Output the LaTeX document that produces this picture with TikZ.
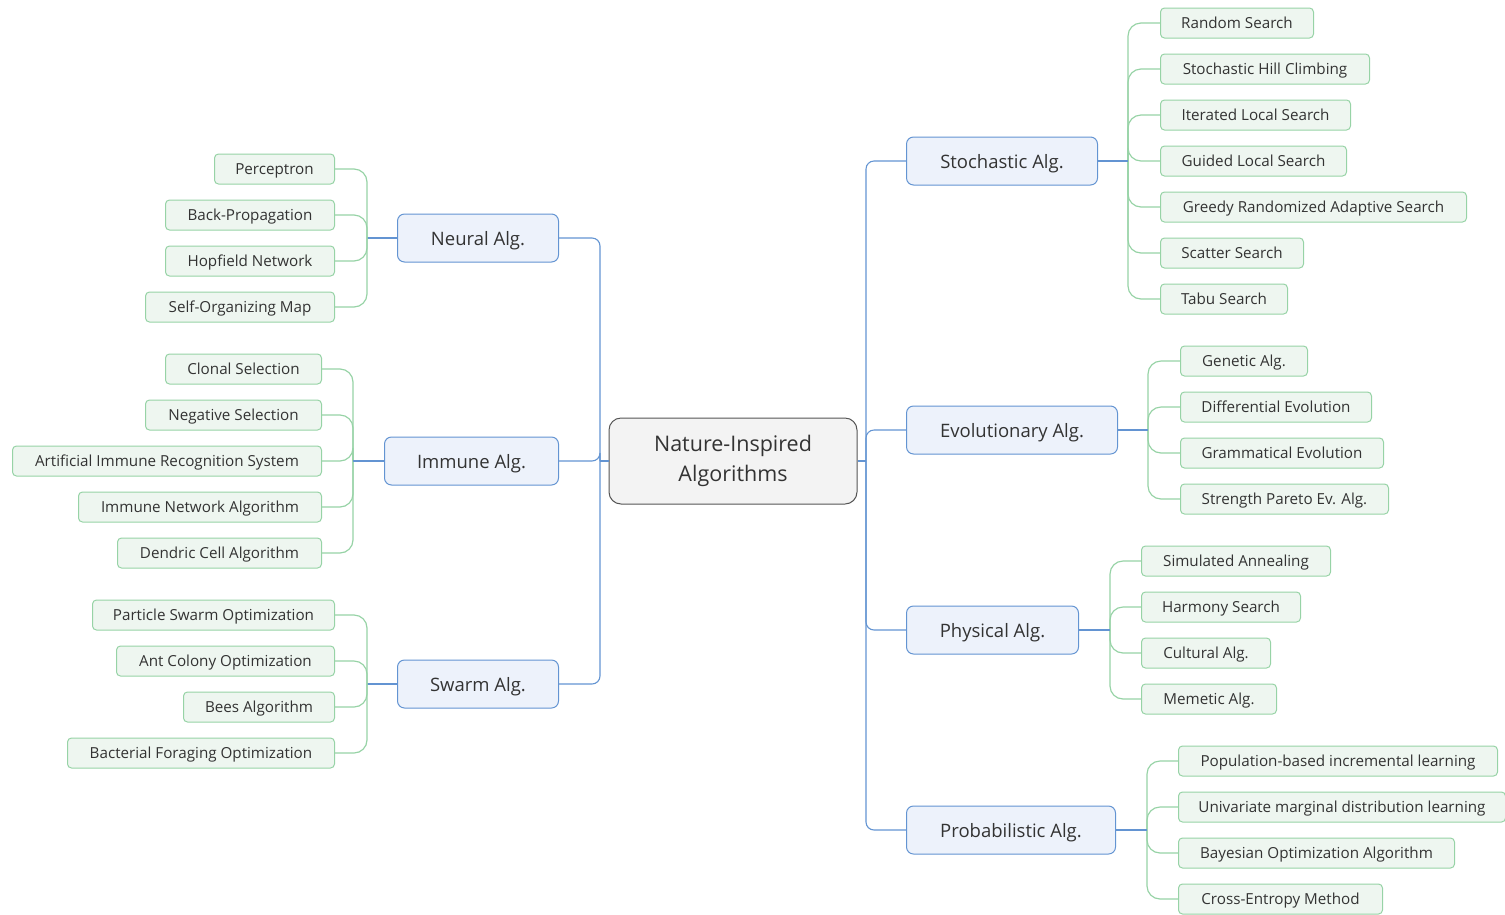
\documentclass[tikz,border=0pt]{standalone}
\usepackage{fontspec}
\setmainfont{Open Sans}
\usetikzlibrary{positioning,calc}
\definecolor{ink}{HTML}{333333}
\definecolor{rootfill}{HTML}{F3F3F3}
\definecolor{rootline}{HTML}{555555}
\definecolor{branchfill}{HTML}{EDF2FB}
\definecolor{branchline}{HTML}{6394D2}
\definecolor{leaffill}{HTML}{EEF6F0}
\definecolor{leafline}{HTML}{97D3A6}
\tikzset{
  base/.style={inner ysep=0pt, text=ink, line width=1pt},
  root/.style={base, rounded corners=12pt, fill=rootfill, draw=rootline, minimum width=248pt, minimum height=86pt, align=center, font=\fontsize{21.5}{30}\selectfont},
  branch/.style={base, rounded corners=7pt, fill=branchfill, draw=branchline, minimum height=48pt, inner xsep=12pt, text height=17pt, text depth=2pt, font=\fontsize{18.5}{20}\selectfont},
  leaf/.style={base, rounded corners=4pt, fill=leaffill, draw=leafline, minimum height=30pt, inner xsep=8pt, text height=13.5pt, text depth=2pt, font=\fontsize{15.2}{16}\selectfont},
  limb/.style={draw=branchline, line width=1.1pt, rounded corners=8pt},
  twig/.style={draw=leafline, line width=1.2pt, rounded corners=13pt},
}

\begin{document}
\begin{tikzpicture}[x=1pt, y=-1pt]
  \useasboundingbox (0,0) rectangle (1505,914);

  % centre
  \node[root] (root) at (733,461) {Nature-Inspired\\Algorithms};
  \coordinate (lhub) at (600,461);
  \coordinate (rhub) at (866,461);
  \draw[limb] (root.west) -- (lhub);
  \draw[limb] (root.east) -- (rhub);

  % main branches
  \foreach \name/\y/\w/\txt in {neural/238/161/Neural Alg., immune/461/174/Immune Alg., swarm/684/161/Swarm Alg.} {
    \node[branch, minimum width=\w pt, anchor=east] (\name) at (559,\y) {\txt};
    \draw[limb] (lhub) |- (\name.east);
  }
  \foreach \name/\y/\w/\txt in {stoch/161/191/Stochastic Alg., evol/430/211/Evolutionary Alg., phys/630/172/Physical Alg., prob/830/209/Probabilistic Alg.} {
    \node[branch, minimum width=\w pt, anchor=west] (\name) at (906,\y) {\txt};
    \draw[limb] (rhub) |- (\name.west);
  }

  % left leaves
  \coordinate (neural-hub) at (367,238);
  \draw[limb] (neural.west) -- (neural-hub);
  \foreach \y/\w/\txt [count=\i] in {169/120/Perceptron, 215/169/Back-Propagation, 261/169/Hopfield Network, 307/189/Self-Organizing Map} {
    \node[leaf, minimum width=\w pt, anchor=east] (neural-\i) at (335,\y) {\txt};
    \draw[twig] (neural-hub) |- (neural-\i.east);
  }

  \coordinate (immune-hub) at (353,461);
  \foreach \y/\w/\txt [count=\i] in {369/156/Clonal Selection, 415/176/Negative Selection, 461/309/Artificial Immune Recognition System, 507/243/Immune Network Algorithm, 553/204/Dendric Cell Algorithm} {
    \node[leaf, minimum width=\w pt, anchor=east] (immune-\i) at (322,\y) {\txt};
    \draw[twig] (immune-hub) |- (immune-\i.east);
  }
  \draw[limb] (immune.west) -- (immune-hub);

  \coordinate (swarm-hub) at (367,684);
  \draw[limb] (swarm.west) -- (swarm-hub);
  \foreach \y/\w/\txt [count=\i] in {615/242/Particle Swarm Optimization, 661/218/Ant Colony Optimization, 707/151/Bees Algorithm, 753/267/Bacterial Foraging Optimization} {
    \node[leaf, minimum width=\w pt, anchor=east] (swarm-\i) at (335,\y) {\txt};
    \draw[twig] (swarm-hub) |- (swarm-\i.east);
  }

  % right leaves
  \coordinate (stoch-hub) at (1128,161);
  \foreach \y/\w/\txt [count=\i] in {23/153/Random Search, 69/209/Stochastic Hill Climbing, 115/190/Iterated Local Search, 161/186/Guided Local Search, 207/306/Greedy Randomized Adaptive Search, 253/143/Scatter Search, 299/127/Tabu Search} {
    \node[leaf, minimum width=\w pt, anchor=west] (stoch-\i) at (1160,\y) {\txt};
    \draw[twig] (stoch-hub) |- (stoch-\i.west);
  }
  \draw[limb] (stoch.east) -- (stoch-hub);

  \coordinate (evol-hub) at (1148,430);
  \foreach \y/\w/\txt [count=\i] in {361/127/Genetic Alg., 407/191/Differential Evolution, 453/203/Grammatical Evolution, 499/208/Strength Pareto Ev. Alg.} {
    \node[leaf, minimum width=\w pt, anchor=west] (evol-\i) at (1180,\y) {\txt};
    \draw[twig] (evol-hub) |- (evol-\i.west);
  }
  \draw[limb] (evol.east) -- (evol-hub);

  \coordinate (phys-hub) at (1110,630);
  \foreach \y/\w/\txt [count=\i] in {561/189/Simulated Annealing, 607/159/Harmony Search, 653/129/Cultural Alg., 699/135/Memetic Alg.} {
    \node[leaf, minimum width=\w pt, anchor=west] (phys-\i) at (1141,\y) {\txt};
    \draw[twig] (phys-hub) |- (phys-\i.west);
  }
  \draw[limb] (phys.east) -- (phys-hub);

  \coordinate (prob-hub) at (1147,830);
  \foreach \y/\w/\txt [count=\i] in {761/319/Population-based incremental learning, 807/327/Univariate marginal distribution learning, 853/276/Bayesian Optimization Algorithm, 899/204/Cross-Entropy Method} {
    \node[leaf, minimum width=\w pt, anchor=west] (prob-\i) at (1178,\y) {\txt};
    \draw[twig] (prob-hub) |- (prob-\i.west);
  }
  \draw[limb] (prob.east) -- (prob-hub);
\end{tikzpicture}
\end{document}
